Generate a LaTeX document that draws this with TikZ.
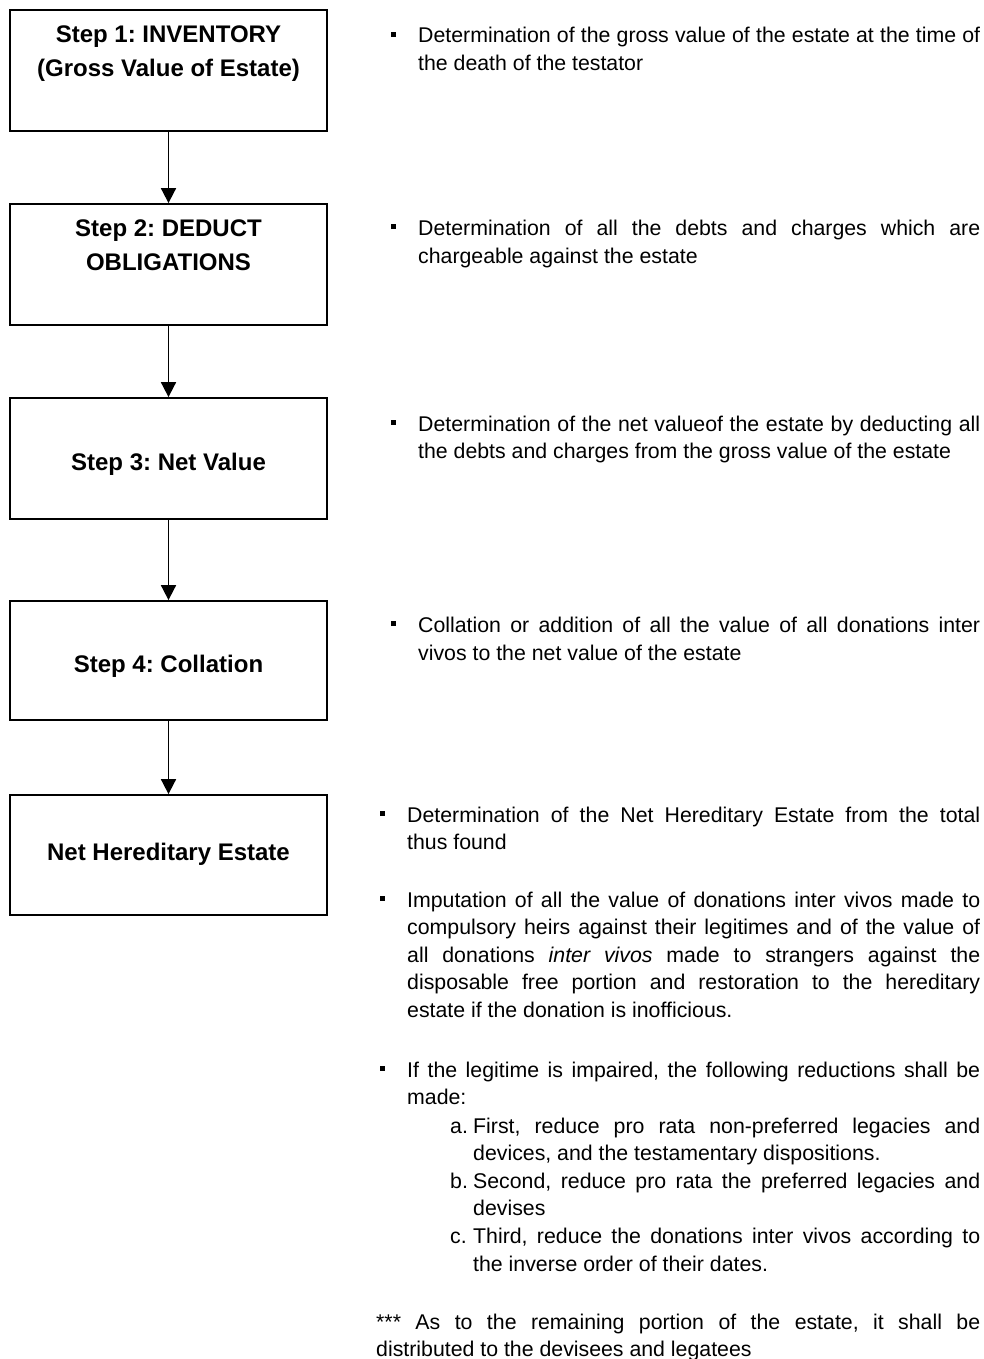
\documentclass[tikz,border=0pt]{standalone}
\usepackage{fontspec}
\setmainfont{Liberation Sans}
\usetikzlibrary{arrows.meta, positioning}

\newcommand{\descfont}{\fontsize{21.3pt}{27.5pt}\selectfont\frenchspacing\tolerance=10000\hyphenpenalty=10000\exhyphenpenalty=10000}
\newcommand{\boxfont}{\fontsize{24pt}{34.4pt}\selectfont\bfseries\frenchspacing}
\newcommand{\sqbullet}{\leavevmode\llap{\rule[6.3pt]{5pt}{5pt}\hspace{22.5pt}}}

\begin{document}
\begin{tikzpicture}[x=1pt, y=-1pt,
      stepbox/.style={draw, line width=1.8pt, minimum width=317pt,
                      minimum height=121pt, inner sep=0pt},
      steptxt/.style={font=\boxfont, align=center, inner sep=0pt},
      desc/.style={anchor=base west, inner sep=0pt, text width=562pt,
                   align=justify, font=\descfont},
      arr/.style={-{Triangle[length=15pt, width=15pt]}, line width=1.8pt}
    ]
      \useasboundingbox (0,0) rectangle (983,1359);

      \node[stepbox] (s1) at (168.5,70.5) {};
      \node[stepbox] (s2) at (168.5,264.5) {};
      \node[stepbox] (s3) at (168.5,458.5) {};
      \node[stepbox, minimum height=119pt] (s4) at (168.5,660.5) {};
      \node[stepbox, minimum height=120pt] (s5) at (168.5,855) {};

      \node[steptxt, below=16pt of s1.north] (s1txt) {Step 1: INVENTORY\\(Gross Value of Estate)};
      \node[steptxt, below=16pt of s2.north] (s2txt) {Step 2: DEDUCT\\OBLIGATIONS};
      \node[steptxt, below=56pt of s3.north] (s3txt) {Step 3: Net Value};
      \node[steptxt, below=55pt of s4.north] (s4txt) {Step 4: Collation};
      \node[steptxt, below=49pt of s5.north] (s5txt) {Net Hereditary Estate};

      \draw[arr] (s1) -- (s2);
      \draw[arr] (s2) -- (s3);
      \draw[arr] (s3) -- (s4);
      \draw[arr] (s4) -- (s5);

      \node[desc] (d1) at (418,43) {\sqbullet Determination of the gross value of the estate at the time of\linebreak
        the death of the testator};
      \node[desc] (d2) at (418,235.5) {\sqbullet Determination of all the debts and charges which are\linebreak
        chargeable against the estate};
      \node[desc] (d3) at (418,431) {\sqbullet Determination of the net valueof the estate by deducting all\linebreak
        the debts and charges from the gross value of the estate};
      \node[desc] (d4) at (418,632.5) {\sqbullet Collation or addition of all the value of all donations inter\linebreak
        vivos to the net value of the estate};

      \node[desc, text width=573pt] (d5) at (407,822) {\sqbullet Determination of the Net Hereditary Estate from the total\linebreak
        thus found};
      \node[desc, text width=573pt] (d6) at (407,907) {\sqbullet Imputation of all the value of donations inter vivos made to\linebreak
        compulsory heirs against their legitimes and of the value of\linebreak
        all donations \textit{inter vivos} made to strangers against the\linebreak
        disposable free portion and restoration to the hereditary\linebreak
        estate if the donation is inofficious.};
      \node[desc, text width=573pt] (d7) at (407,1077) {\sqbullet If the legitime is impaired, the following reductions shall be\linebreak
        made:};

      \node[desc, text width=507pt] (ra) at (473,1133) {\llap{\makebox[23pt][l]{a.}}First, reduce pro rata non-preferred legacies and\linebreak
        devices, and the testamentary dispositions.};
      \node[desc, text width=507pt] (rb) at (473,1188) {\llap{\makebox[23pt][l]{b.}}Second, reduce pro rata the preferred legacies and\linebreak
        devises};
      \node[desc, text width=507pt] (rc) at (473,1243.5) {\llap{\makebox[23pt][l]{c.}}Third, reduce the donations inter vivos according to\linebreak
        the inverse order of their dates.};

      \node[desc, text width=604pt] (note) at (376,1329) {*** As to the remaining portion of the estate, it shall be\linebreak
        distributed to the devisees and legatees};
    \end{tikzpicture}
\end{document}
